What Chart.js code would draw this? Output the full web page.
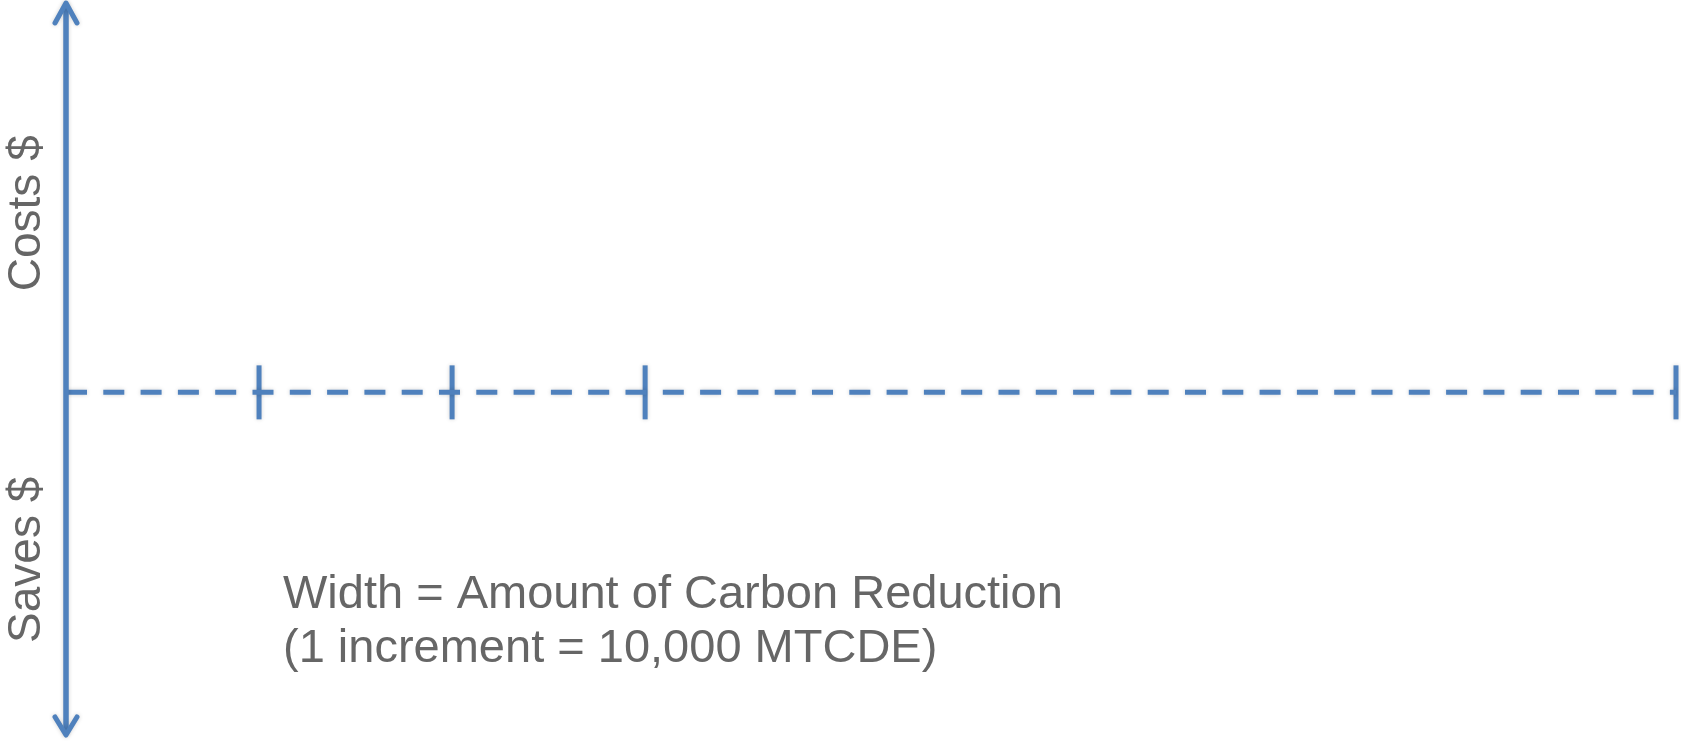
<!DOCTYPE html>
<html>
<head>
<meta charset="utf-8">
<script src="https://cdn.jsdelivr.net/npm/chart.js@4/dist/chart.umd.min.js"></script>
<style>
  html, body { margin: 0; padding: 0; background: #ffffff; }
  #wrap { width: 1681px; height: 742px; position: relative; }
</style>
</head>
<body>
<div id="wrap"><canvas id="costCurve"></canvas></div>
<script>
// cumulative carbon reduction, in increments of 10,000 MTCDE
const incrementMarks = [1, 2, 3, 8.34];
const xMax = 8.34;
// cost axis extent (positive = costs, negative = saves)
const costTop = 1;
const costBottom = -0.88;
const sideLabels = ['Costs $', 'Saves $'];
const sideLabelValues = [0.46, -0.43];
const noteLines = ['Width = Amount of Carbon Reduction', '(1 increment = 10,000 MTCDE)'];

const BLUE = '#4f81bd';
const GREY = '#666666';

const ctx = document.getElementById('costCurve').getContext('2d');

const arrowsAndText = {
    id: 'arrowsAndText',
    afterDatasetsDraw(chart) {
        const {ctx, scales: {x, y}} = chart;
        const ax = x.getPixelForValue(0);
        const top = y.getPixelForValue(costTop);
        const bottom = y.getPixelForValue(costBottom);

        ctx.save();
        ctx.shadowColor = 'rgba(0, 0, 0, 0.18)';
        ctx.shadowBlur = 4;
        ctx.strokeStyle = BLUE;
        ctx.lineWidth = 5;
        ctx.lineCap = 'round';
        ctx.lineJoin = 'round';
        ctx.beginPath();
        ctx.moveTo(ax - 11, top + 20);
        ctx.lineTo(ax, top);
        ctx.lineTo(ax + 11, top + 20);
        ctx.moveTo(ax - 11, bottom - 18);
        ctx.lineTo(ax, bottom);
        ctx.lineTo(ax + 11, bottom - 18);
        ctx.stroke();
        ctx.restore();

        ctx.save();
        ctx.fillStyle = GREY;
        ctx.font = '46px "Liberation Sans", Arial, sans-serif';
        ctx.textAlign = 'center';
        ctx.textBaseline = 'middle';
        sideLabels.forEach((txt, i) => {
            ctx.save();
            ctx.translate(ax - 39, y.getPixelForValue(sideLabelValues[i]));
            ctx.rotate(-Math.PI / 2);
            ctx.fillText(txt, 0, 0);
            ctx.restore();
        });

        ctx.font = '47px "Liberation Sans", Arial, sans-serif';
        ctx.textAlign = 'left';
        ctx.textBaseline = 'alphabetic';
        noteLines.forEach((txt, i) => {
            ctx.fillText(txt, 283, 608 + i * 54);
        });
        ctx.restore();
    }
};

const softShadow = {
    id: 'softShadow',
    beforeDatasetsDraw(chart) {
        chart.ctx.save();
        chart.ctx.shadowColor = 'rgba(0, 0, 0, 0.18)';
        chart.ctx.shadowBlur = 4;
    },
    afterDatasetsDraw(chart) {
        chart.ctx.restore();
    }
};

new Chart(ctx, {
    type: 'scatter',
    data: {
        datasets: [
            {
                label: 'Cost axis',
                data: [{x: 0, y: costBottom}, {x: 0, y: costTop}],
                showLine: true,
                borderColor: BLUE,
                borderWidth: 5.5,
                pointRadius: 0,
                clip: false
            },
            {
                label: 'Carbon reduction',
                data: [{x: 0, y: 0}, {x: xMax, y: 0}],
                showLine: true,
                borderColor: BLUE,
                borderWidth: 5,
                borderDash: [21, 16.3],
                pointRadius: 0,
                clip: false
            },
            {
                label: 'Increments',
                data: incrementMarks.map(v => ({x: v, y: 0})),
                showLine: false,
                pointStyle: 'line',
                pointRotation: 90,
                pointRadius: 27,
                borderColor: BLUE,
                borderWidth: 5,
                clip: false
            }
        ]
    },
    options: {
        responsive: true,
        maintainAspectRatio: false,
        animation: false,
        events: [],
        layout: {
            autoPadding: false,
            padding: { left: 66, right: 5, top: 3, bottom: 7 }
        },
        plugins: {
            legend: { display: false },
            tooltip: { enabled: false }
        },
        scales: {
            x: {
                type: 'linear',
                min: 0,
                max: xMax,
                display: false
            },
            y: {
                type: 'linear',
                min: costBottom,
                max: costTop,
                display: false
            }
        }
    },
    plugins: [softShadow, arrowsAndText]
});
</script>
</body>
</html>
